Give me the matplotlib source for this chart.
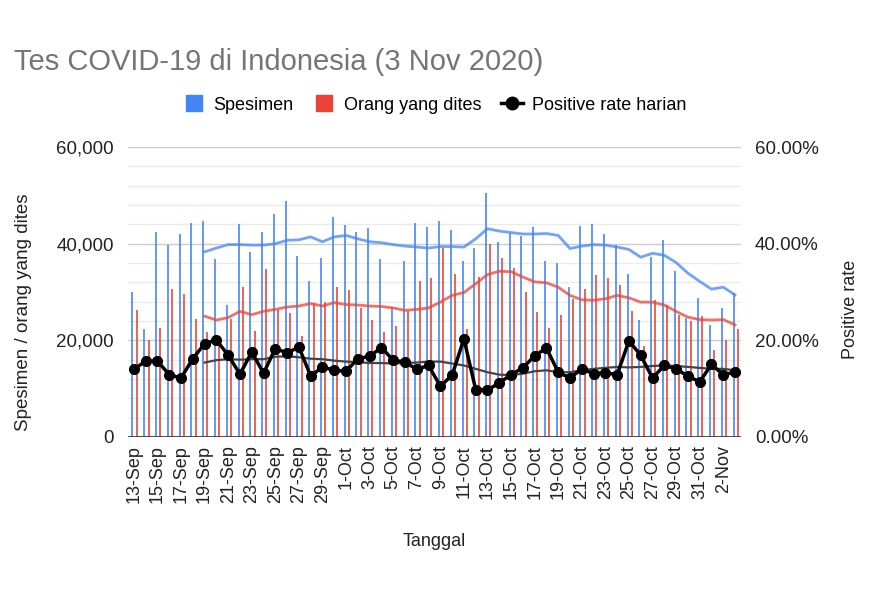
import matplotlib
matplotlib.use("Agg")
import matplotlib.pyplot as plt
from matplotlib.lines import Line2D
from matplotlib.ticker import MultipleLocator, FuncFormatter

plt.rcParams['font.family'] = ['Liberation Sans', 'DejaVu Sans']

# tanggal 13 Sep - 3 Nov 2020
tanggal = (['%d-Sep' % d for d in range(13, 31)] +
           ['%d-Oct' % d for d in range(1, 32)] +
           ['%d-Nov' % d for d in range(1, 4)])

spesimen = [30000, 22400, 42400, 39800, 41900, 44300, 44600, 36800, 27300, 44000,
            38300, 42400, 46100, 48900, 37400, 32200, 37100, 45500, 43800, 42400,
            43300, 36800, 26900, 36400, 44300, 43400, 44700, 42900, 36400, 39200,
            50400, 40400, 42200, 41500, 43400, 36400, 36000, 31000, 43700, 44000,
            42100, 39700, 33700, 24300, 37300, 40800, 34300, 24600, 28800, 23100,
            26700, 29800]

orang = [26200, 20100, 22600, 30700, 29500, 24400, 21700, 20500, 24500, 31000,
         22000, 34700, 26300, 25600, 20800, 27800, 28000, 31100, 30400, 26600,
         24200, 21700, 22900, 26000, 32300, 32800, 39100, 33800, 22300, 33100,
         40000, 37100, 35000, 30100, 25900, 22600, 25200, 28500, 30700, 33500,
         32800, 31400, 26000, 18800, 28300, 27300, 25200, 24000, 25000, 18000,
         20000, 22300]

# positive rate harian (%)
pos_rate = [14.0, 15.7, 15.7, 12.9, 12.2, 16.2, 19.3, 20.1, 16.9, 13.0,
            17.6, 13.2, 18.3, 17.4, 18.6, 12.6, 14.5, 13.8, 13.6, 16.2,
            16.7, 18.5, 15.9, 15.5, 14.0, 14.8, 10.5, 12.8, 20.3, 9.8,
            9.7, 11.2, 12.9, 14.3, 16.8, 18.4, 13.4, 12.2, 14.1, 13.1,
            13.3, 12.9, 19.9, 16.9, 12.2, 14.8, 14.1, 12.6, 11.4, 15.0,
            12.9, 13.4]

# rata-rata 7 hari, mulai 19-Sep
avg_spesimen = [None] * 6 + [
    38300, 39100, 39800, 39800, 39700, 39700, 40000, 40700, 40800, 41400,
    40400, 41400, 41700, 41000, 40400, 40200, 39800, 39500, 39300, 39100,
    39400, 39400, 39300, 41000, 43100, 42600, 42300, 42000, 42000, 42100,
    41700, 39000, 39500, 39800, 39700, 39300, 38800, 37200, 38000, 37600,
    36100, 33900, 32200, 30600, 31000, 29400]

avg_orang = [None] * 6 + [
    25000, 24200, 24700, 26000, 25300, 26000, 26400, 26900, 27100, 27600,
    27100, 27800, 27400, 27300, 27100, 27000, 26700, 26200, 26400, 26700,
    27900, 29300, 29900, 31700, 33600, 34300, 34200, 33100, 32100, 31900,
    31000, 29300, 28400, 28300, 28600, 29300, 28800, 27900, 27900, 27300,
    26000, 24800, 24300, 24200, 24300, 23200]

avg_pos = [None] * 6 + [
    15.4, 15.9, 16.1, 16.0, 16.1, 16.1, 16.6, 16.7, 16.5, 16.2,
    16.1, 15.8, 15.6, 15.5, 15.3, 15.3, 15.2, 15.3, 15.4, 15.6,
    15.6, 15.2, 14.8, 14.1, 13.4, 12.9, 12.8, 13.1, 13.6, 13.8,
    13.4, 13.4, 13.8, 14.1, 14.3, 14.5, 14.4, 14.5, 14.7, 14.8,
    14.7, 14.5, 14.3, 14.1, 14.1, 13.8]

BLUE = '#4285F4'
RED = '#EA4335'

x = list(range(len(tanggal)))
nan = float('nan')

fig = plt.figure(figsize=(8.87, 6.04), dpi=100)
ax = fig.add_axes([0.1443, 0.2765, 0.691, 0.4801])
ax2 = ax.twinx()

# batang tipis: spesimen (biru) dan orang (merah)
ax.vlines([i - 0.12 for i in x], 0, spesimen, color=BLUE, lw=1.3, alpha=0.9, zorder=2)
ax.vlines([i + 0.24 for i in x], 0, orang, color=RED, lw=1.3, alpha=0.9, zorder=2)
ax.plot(x, [nan if v is None else v for v in avg_spesimen],
        color=BLUE, alpha=0.75, lw=2, zorder=3)
ax.plot(x, [nan if v is None else v for v in avg_orang],
        color=RED, alpha=0.75, lw=2, zorder=3)

ax2.plot(x, [nan if v is None else v for v in avg_pos],
         color='#444444', lw=1.6, zorder=3)
ax2.plot(x, pos_rate, color='black', lw=2.5, marker='o', ms=7, zorder=4)

ax.set_xlim(-0.5, len(x) - 0.5)
ax.set_ylim(0, 60000)
ax2.set_ylim(0, 60)

ax.yaxis.set_major_locator(MultipleLocator(20000))
ax.yaxis.set_minor_locator(MultipleLocator(4000))
ax.yaxis.set_major_formatter(FuncFormatter(lambda v, p: '{:,.0f}'.format(v)))
ax2.yaxis.set_major_locator(MultipleLocator(20))
ax2.yaxis.set_major_formatter(FuncFormatter(lambda v, p: '{:.2f}%'.format(v)))

ax.grid(axis='y', which='major', color='#cccccc', lw=1, zorder=0)
ax.grid(axis='y', which='minor', color='#ebebeb', lw=1, zorder=0)
ax.set_axisbelow(True)

ax.set_xticks(x[::2])
ax.set_xticklabels(tanggal[::2], rotation=90, fontsize=13, color='#222222')
ax.tick_params(axis='x', length=0, pad=6)
ax.tick_params(axis='y', which='both', length=0, pad=10, labelsize=13.5, labelcolor='#222222')
ax2.tick_params(axis='y', length=0, pad=10, labelsize=13.5, labelcolor='#222222')

for a in (ax, ax2):
    for s in ('top', 'left', 'right', 'bottom'):
        a.spines[s].set_visible(False)
ax.axhline(0, color='#333333', lw=1.2, zorder=5)

fig.text(0.016, 0.897, 'Tes COVID-19 di Indonesia (3 Nov 2020)', fontsize=21,
         color='#757575', va='center', ha='left')
fig.text(0.027, 0.483, 'Spesimen / orang yang dites', rotation=90, fontsize=13.5,
         va='center', ha='center', color='#222222')
fig.text(0.959, 0.487, 'Positive rate', rotation=90, fontsize=13,
         va='center', ha='center', color='#222222')
fig.text(0.49, 0.104, 'Tanggal', fontsize=13, va='center', ha='center', color='#222222')

handles = [Line2D([], [], ls='none', marker='s', ms=11, color=BLUE),
           Line2D([], [], ls='none', marker='s', ms=11, color=RED),
           Line2D([], [], color='black', lw=2.5, marker='o', ms=9)]
fig.legend(handles, ['Spesimen', 'Orang yang dites', 'Positive rate harian'],
           loc='center', bbox_to_anchor=(0.49, 0.826), ncol=3, frameon=False,
           fontsize=13, handlelength=1.2, columnspacing=1.1, handletextpad=0.5)

plt.savefig('out.png', dpi=100)
